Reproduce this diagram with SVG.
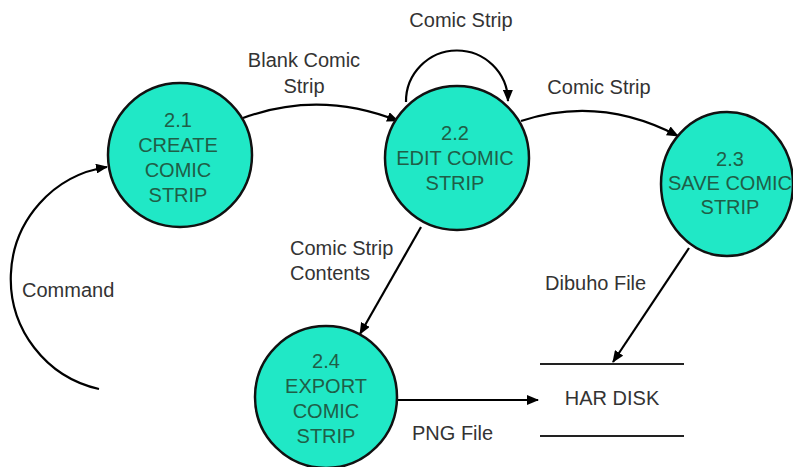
<svg xmlns="http://www.w3.org/2000/svg" width="793" height="467" viewBox="0 0 793 467">
<defs>
<marker id="arr" viewBox="0 0 12 10" refX="11" refY="5" markerWidth="12" markerHeight="10" markerUnits="userSpaceOnUse" orient="auto">
<path d="M0,0 L12,5 L0,10 Z" fill="#000"/>
</marker>
<style>
.proc{fill:#20e8c6;stroke:#111;stroke-width:2.5}
.pt{font-family:"Liberation Sans",Arial,sans-serif;font-size:20px;fill:#1f5e47;text-anchor:middle}
.lb{font-family:"Liberation Sans",Arial,sans-serif;font-size:20px;fill:#333}
.flow{fill:none;stroke:#000;stroke-width:2.2;marker-end:url(#arr)}
.store{stroke:#222;stroke-width:2}
</style>
</defs>
<rect width="793" height="467" fill="#fff"/>
<g id="connectors">
<path class="flow" d="M99,389 A113,113 0 0 1 107,167"/>
<path class="flow" d="M243,118 Q320,90 398,121"/>
<path class="flow" d="M406,102 A51,51 0 1 1 508,101"/>
<path class="flow" d="M521,121 Q600,95 678,136"/>
<path class="flow" d="M421,227 L360,334"/>
<path class="flow" d="M689,248 L613,362"/>
<path class="flow" d="M396,400 L538,400"/>
<text class="lb" x="22" y="297">Command</text>
<text class="lb" x="304" y="67" text-anchor="middle">Blank Comic</text>
<text class="lb" x="304" y="93" text-anchor="middle">Strip</text>
<text class="lb" x="461" y="27" text-anchor="middle">Comic Strip</text>
<text class="lb" x="599" y="94" text-anchor="middle">Comic Strip</text>
<text class="lb" x="290" y="255">Comic Strip</text>
<text class="lb" x="290" y="280">Contents</text>
<text class="lb" x="545" y="290">Dibuho File</text>
<text class="lb" x="412" y="440">PNG File</text>
</g>
<g id="n21">
<circle class="proc" cx="180" cy="155" r="72"/>
<text class="pt" x="178" y="127">2.1</text>
<text class="pt" x="178" y="152">CREATE</text>
<text class="pt" x="178" y="177">COMIC</text>
<text class="pt" x="178" y="202">STRIP</text>
</g>
<g id="n22">
<circle class="proc" cx="457" cy="158" r="72"/>
<text class="pt" x="455" y="140">2.2</text>
<text class="pt" x="455" y="165">EDIT COMIC</text>
<text class="pt" x="455" y="190">STRIP</text>
</g>
<g id="n23">
<ellipse class="proc" cx="727" cy="184" rx="66" ry="72"/>
<text class="pt" x="730" y="166">2.3</text>
<text class="pt" x="730" y="190">SAVE COMIC</text>
<text class="pt" x="730" y="214">STRIP</text>
</g>
<g id="n24">
<circle class="proc" cx="326" cy="397" r="71"/>
<text class="pt" x="326" y="368">2.4</text>
<text class="pt" x="326" y="393">EXPORT</text>
<text class="pt" x="326" y="418">COMIC</text>
<text class="pt" x="326" y="443">STRIP</text>
</g>
<g id="harddisk">
<line class="store" x1="540" y1="364" x2="684" y2="364"/>
<line class="store" x1="540" y1="436" x2="684" y2="436"/>
<text class="lb" x="612" y="405" text-anchor="middle">HAR DISK</text>
</g>
</svg>
